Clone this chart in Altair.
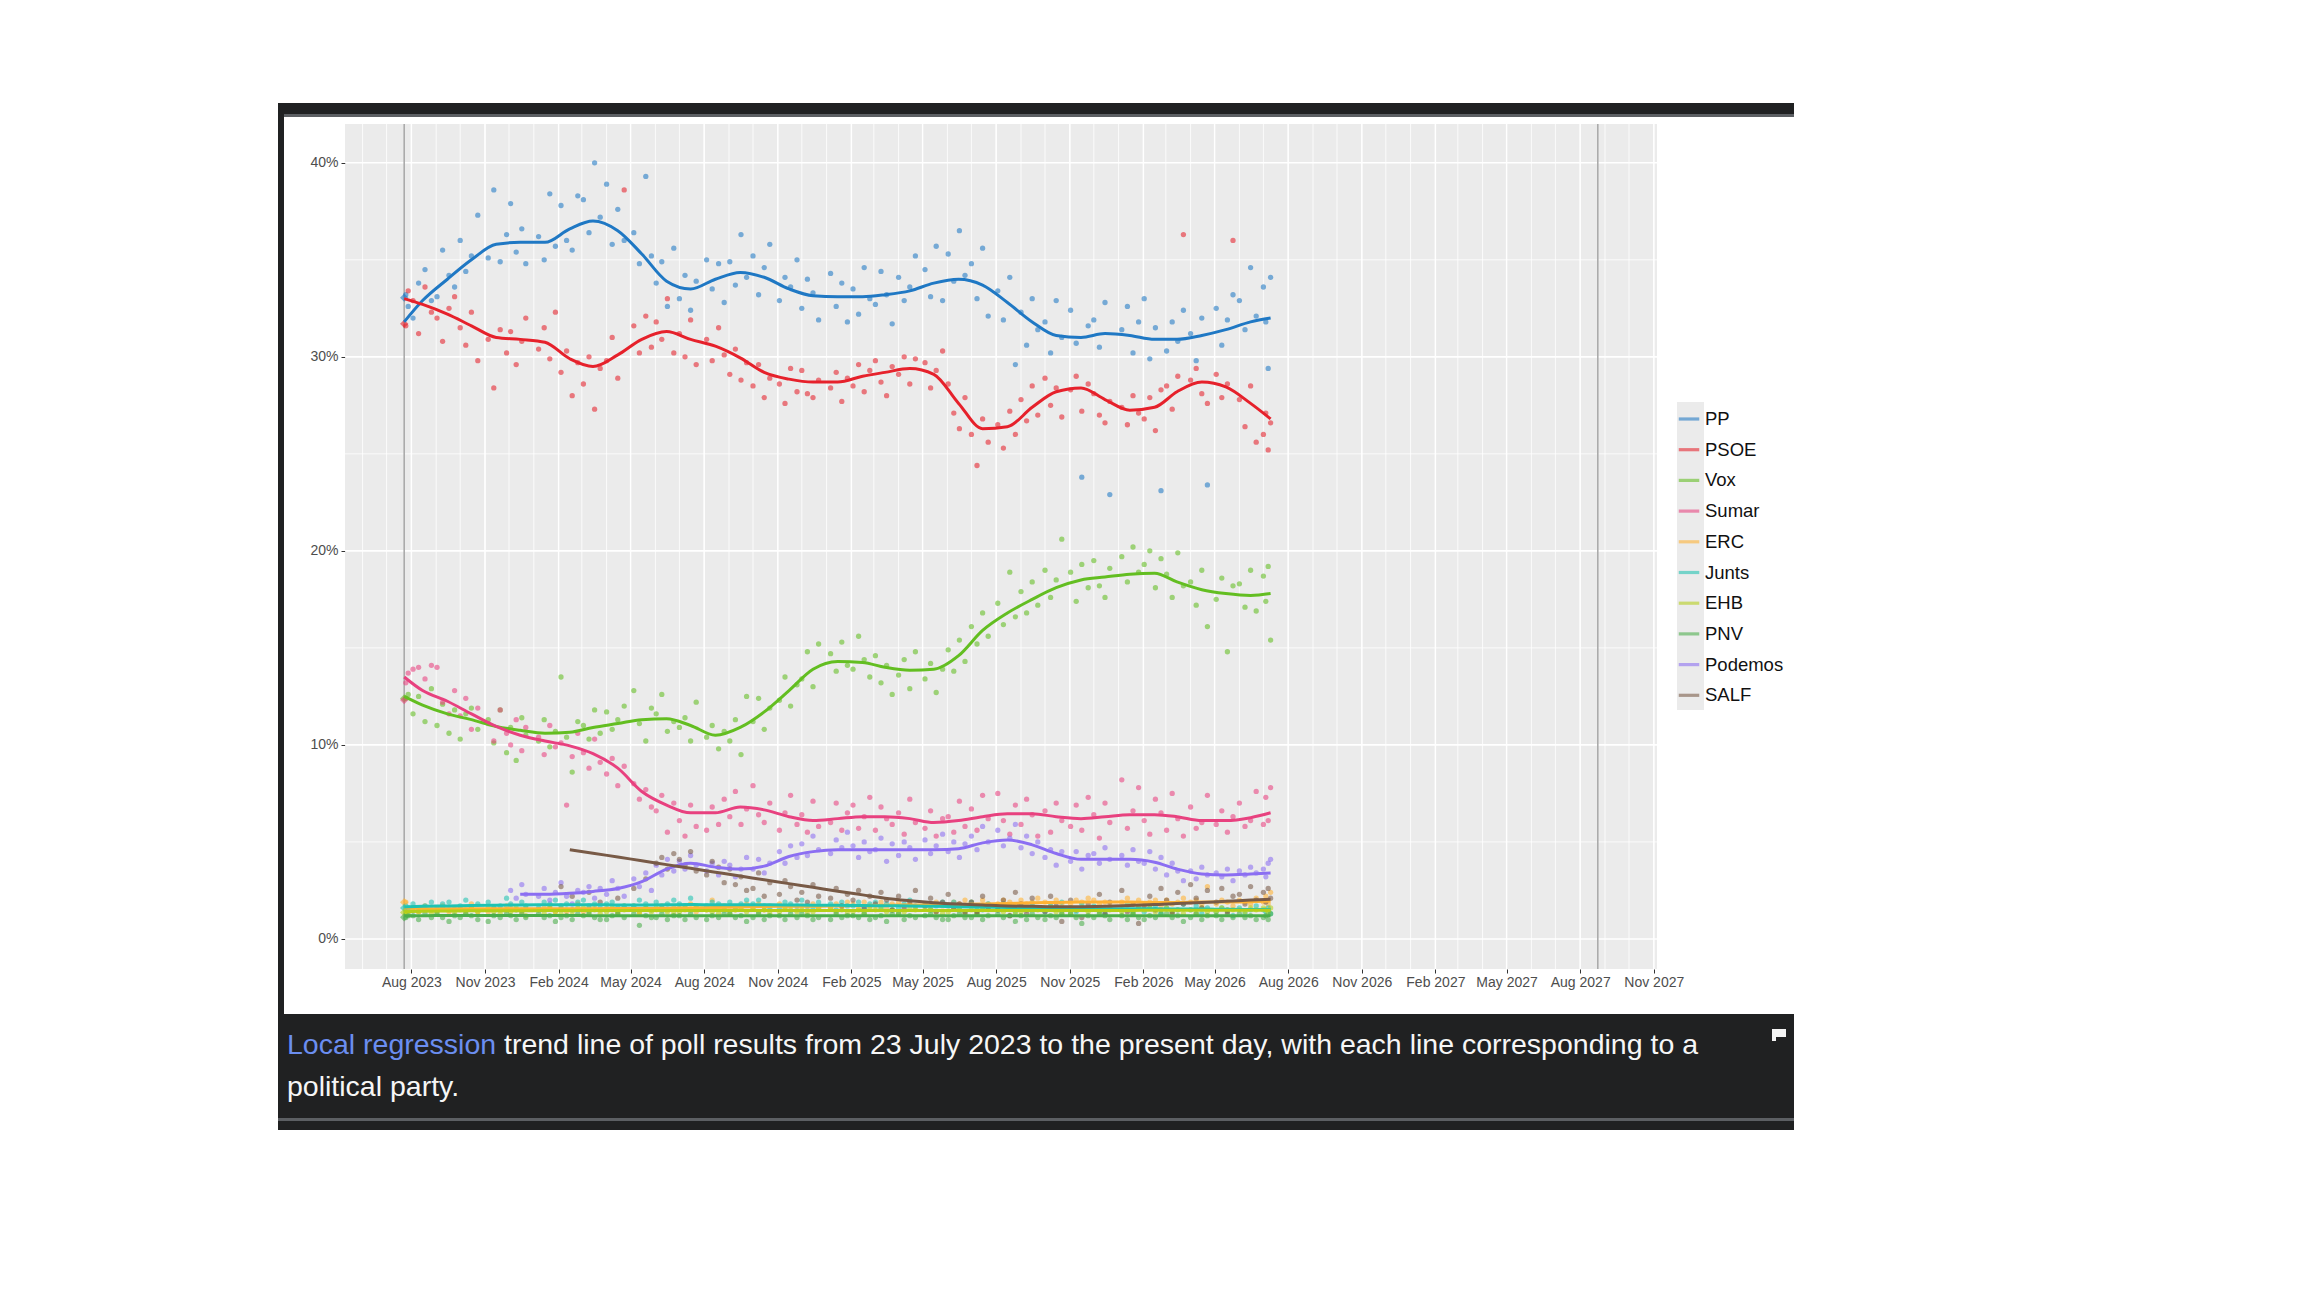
import altair as alt
import pandas as pd

FONT = "Liberation Sans"

# parties in legend order and their colours
parties = ["PP", "PSOE", "Vox", "Sumar", "ERC", "Junts", "EHB", "PNV", "Podemos", "SALF"]
colours = ["#1f78c4", "#e6212b", "#63be21", "#e8417f", "#ffb232",
           "#1fc3b2", "#b5cf18", "#4aae4a", "#8b6ef2", "#785a46"]

# 23 July 2023 general election result (diamonds) and the next election date
election_date = "2023-07-23"
election_result = [33.05, 31.70, 12.39, 12.31, 1.89, 1.60, 1.36, 1.12, None, None]
next_election = "2027-08-23"

x_ticks = ["2023-08-01", "2023-11-01", "2024-02-01", "2024-05-01", "2024-08-01",
           "2024-11-01", "2025-02-01", "2025-05-01", "2025-08-01", "2025-11-01",
           "2026-02-01", "2026-05-01", "2026-08-01", "2026-11-01", "2027-02-01",
           "2027-05-01", "2027-08-01", "2027-11-01"]
y_ticks = [0, 10, 20, 30, 40]

# poll field dates (one row of four per month)
poll_dates = [
    "2023-07-25", "2023-07-28",
    "2023-08-03", "2023-08-10", "2023-08-18", "2023-08-26",
    "2023-09-02", "2023-09-09", "2023-09-17", "2023-09-24",
    "2023-10-01", "2023-10-08", "2023-10-15", "2023-10-23",
    "2023-11-05", "2023-11-12", "2023-11-20", "2023-11-28",
    "2023-12-03", "2023-12-10", "2023-12-17", "2023-12-22",
    "2024-01-07", "2024-01-14", "2024-01-21", "2024-01-28",
    "2024-02-04", "2024-02-11", "2024-02-18", "2024-02-25",
    "2024-03-03", "2024-03-10", "2024-03-17", "2024-03-24",
    "2024-04-01", "2024-04-08", "2024-04-15", "2024-04-23",
    "2024-05-05", "2024-05-12", "2024-05-20", "2024-05-27",
    "2024-06-02", "2024-06-09", "2024-06-16", "2024-06-24",
    "2024-07-01", "2024-07-08", "2024-07-15", "2024-07-22",
    "2024-08-04", "2024-08-11", "2024-08-19", "2024-08-26",
    "2024-09-02", "2024-09-09", "2024-09-16", "2024-09-23",
    "2024-10-01", "2024-10-08", "2024-10-15", "2024-10-22",
    "2024-11-03", "2024-11-10", "2024-11-17", "2024-11-25",
    "2024-12-01", "2024-12-08", "2024-12-15", "2024-12-22",
    "2025-01-06", "2025-01-13", "2025-01-20", "2025-01-27",
    "2025-02-03", "2025-02-10", "2025-02-17", "2025-02-24",
    "2025-03-03", "2025-03-10", "2025-03-17", "2025-03-24",
    "2025-04-01", "2025-04-08", "2025-04-15", "2025-04-22",
    "2025-05-04", "2025-05-11", "2025-05-18", "2025-05-26",
    "2025-06-02", "2025-06-09", "2025-06-16", "2025-06-23",
    "2025-07-01", "2025-07-08", "2025-07-15", "2025-07-22",
    "2025-08-03", "2025-08-10", "2025-08-18", "2025-08-25",
    "2025-09-01", "2025-09-08", "2025-09-15", "2025-09-22",
    "2025-10-01", "2025-10-08", "2025-10-15", "2025-10-22",
    "2025-11-02", "2025-11-09", "2025-11-16", "2025-11-24",
    "2025-12-01", "2025-12-08", "2025-12-15", "2025-12-21",
    "2026-01-05", "2026-01-12", "2026-01-19", "2026-01-26",
    "2026-02-02", "2026-02-09", "2026-02-16", "2026-02-23",
    "2026-03-02", "2026-03-09", "2026-03-16", "2026-03-23",
    "2026-04-01", "2026-04-08", "2026-04-15", "2026-04-22",
    "2026-05-03", "2026-05-10", "2026-05-17", "2026-05-24",
    "2026-06-01", "2026-06-08", "2026-06-15", "2026-06-22",
    "2026-07-01", "2026-07-04", "2026-07-07", "2026-07-10",
]

pp = [
    33.2, 32.6,
    32.0, 33.8, 34.5, 32.9,  33.1, 35.5, 34.2, 33.6,  36.0, 34.4, 35.2, 37.3,
    35.1, 38.6, 34.9, 36.3,  37.9, 35.4, 36.6, 34.8,
    36.2, 35.0, 38.4, 35.7,  37.8, 36.0, 35.5, 38.3,  38.1, 36.4, 40.0, 37.2,
    38.9, 35.8, 37.6, 36.0,  36.4, 34.8, 39.3, 35.2,  33.8, 34.9, 32.6, 35.6,
    33.0, 34.2, 32.4, 33.9,  35.0, 33.5, 34.8, 32.8,  34.9, 33.7, 36.3, 34.1,
    35.2, 33.2, 34.6, 35.8,  32.9, 34.1, 33.6, 35.0,  32.5, 34.0, 33.3, 31.9,
    34.3, 32.6, 33.8, 31.8,  33.5, 32.2, 34.6, 33.0,  32.7, 34.4, 33.2, 31.7,
    34.1, 32.9, 33.6, 35.2,  34.5, 33.1, 35.7, 32.9,  35.3, 33.9, 36.5, 34.2,
    34.8, 33.0, 35.6, 32.1,  33.4, 31.9, 34.1, 29.6,  32.3, 30.6, 33.0, 31.4,
    31.8, 30.2, 32.9, 31.0,  32.4, 30.7, 23.8, 31.6,  31.9, 30.5, 32.8, 22.9,
    31.4, 32.6, 30.2, 31.8,  33.0, 29.9, 31.5, 23.1,  30.3, 31.8, 30.8, 32.4,
    31.2, 29.8, 32.0, 23.4,  32.5, 30.6, 31.9, 33.2,  32.9, 31.4, 34.6, 32.1,
    33.6, 31.8, 29.4, 34.1,
]
psoe = [
    31.6, 33.4,
    32.9, 31.2, 33.6, 32.3,  32.0, 30.8, 32.5, 33.1,  31.5, 30.6, 32.3, 29.8,
    30.9, 28.4, 31.4, 30.2,  31.3, 29.6, 30.8, 32.0,
    30.4, 31.5, 29.9, 32.3,  29.2, 30.3, 28.0, 29.7,  28.6, 30.0, 27.3, 29.4,
    29.8, 31.0, 28.9, 38.6,  31.6, 30.2, 32.1, 30.5,  31.8, 30.9, 33.0, 30.2,
    31.2, 30.0, 31.9, 29.6,  30.9, 29.8, 31.5, 30.1,  29.1, 30.4, 28.8, 29.7,
    28.5, 29.6, 27.9, 28.9,  28.6, 27.6, 29.4, 28.2,  29.3, 28.1, 27.9, 28.8,
    28.4, 29.2, 27.7, 28.9,  28.5, 29.6, 28.2, 29.3,  29.8, 28.7, 28.0, 29.5,
    29.1, 30.0, 28.6, 29.9,  29.7, 28.4, 29.3, 30.3,  28.6, 27.1, 26.3, 27.9,
    26.0, 24.4, 26.8, 25.6,  26.5, 25.3, 27.2, 26.0,  27.8, 26.7, 28.5, 27.0,
    28.9, 27.5, 28.4, 26.9,  28.3, 29.0, 27.2, 28.6,  28.1, 27.0, 26.6, 27.7,
    27.4, 26.5, 28.0, 27.1,  26.8, 27.9, 26.2, 28.3,  28.5, 27.3, 29.0, 36.3,
    28.8, 29.4, 28.1, 27.6,  29.1, 27.9, 28.6, 36.0,  27.8, 26.4, 28.5, 25.6,
    26.0, 27.1, 25.2, 26.6,
]
vox = [
    12.4, 12.6,
    11.6, 12.5, 11.2, 12.9,  11.0, 12.1, 10.6, 11.8,  10.3, 11.6, 11.9, 10.8,
    11.3, 10.1, 11.8, 9.6,   10.9, 9.2, 11.4, 10.5,
    10.2, 11.3, 9.9, 10.7,   13.5, 10.4, 8.6, 11.2,   11.0, 10.3, 11.8, 10.6,
    11.7, 10.8, 11.3, 12.0,  12.8, 11.1, 10.2, 11.9,  11.6, 12.6, 10.7, 11.2,
    10.9, 11.4, 10.2, 12.2,  10.4, 11.0, 9.8, 10.7,   10.2, 11.3, 9.5, 12.5,
    11.2, 12.4, 10.8, 11.9,  12.3, 13.5, 12.0, 13.1,  13.4, 14.8, 13.0, 15.2,
    14.7, 13.8, 15.3, 14.1,  13.9, 15.6, 14.4, 13.5,  14.6, 13.2, 14.1, 12.6,
    13.6, 14.4, 12.9, 14.8,  13.4, 14.2, 12.7, 13.9,  14.9, 13.8, 15.4, 14.3,
    16.1, 15.2, 16.8, 15.6,  17.3, 16.2, 18.9, 16.6,  17.9, 16.8, 18.4, 17.2,
    19.0, 17.6, 18.5, 20.6,  18.9, 17.4, 19.3, 18.1,  19.5, 18.2, 17.6, 19.1,
    19.7, 18.4, 20.2, 18.9,  19.3, 20.0, 18.1, 19.6,  18.8, 17.6, 19.9, 18.2,
    18.4, 17.2, 19.0, 16.1,  17.5, 18.6, 14.8, 18.2,  18.3, 17.1, 19.0, 16.9,
    18.7, 17.4, 19.2, 15.4,
]
sumar = [
    13.2, 13.7,
    13.9, 14.0, 13.4, 14.1,  14.0, 12.2, 11.6, 12.8,  11.5, 12.4, 10.8, 11.9,
    11.1, 10.2, 11.8, 10.6,  10.0, 11.3, 9.7, 10.9,
    10.4, 9.5, 11.0, 9.9,    10.1, 6.9, 9.4, 10.6,    9.6, 8.8, 10.3, 9.1,
    8.5, 9.3, 7.9, 8.9,      8.0, 7.2, 7.7, 6.8,      6.6, 7.4, 5.5, 7.0,
    6.1, 5.3, 6.9, 5.8,      5.6, 6.8, 5.9, 7.2,      6.3, 7.6, 5.9, 6.7,
    7.9, 6.4, 6.0, 7.0,      5.6, 6.5, 7.4, 5.9,      6.4, 5.5, 7.1, 5.8,
    6.0, 7.0, 5.6, 6.5,      6.9, 5.7, 6.3, 7.3,      5.6, 6.8, 6.2, 5.9,
    6.5, 5.4, 7.2, 6.0,      5.7, 6.6, 5.3, 6.2,      6.3, 5.5, 7.1, 5.8,
    6.7, 5.6, 7.4, 6.2,      7.5, 6.1, 5.4, 6.9,      5.9, 7.2, 6.4, 5.3,
    6.6, 5.5, 7.0, 6.1,      5.8, 6.9, 5.6, 7.3,      6.4, 5.2, 7.0, 6.0,
    8.2, 5.7, 6.6, 7.8,      6.1, 5.4, 7.2, 6.5,      5.6, 7.5, 6.2, 5.3,
    6.8, 5.7, 6.0, 7.4,      5.9, 6.6, 5.5, 6.3,      7.0, 5.8, 6.1, 7.6,
    5.9, 7.3, 6.1, 7.8,
]
erc = [
    1.9, 1.5,
    1.6, 1.4, 1.7, 1.5,  1.5, 1.7, 1.4, 1.6,  1.6, 1.5, 1.8, 1.4,
    1.4, 1.6, 1.5, 1.7,  1.7, 1.5, 1.4, 1.6,
    1.5, 1.6, 1.7, 1.4,  1.6, 1.4, 1.5, 1.8,  1.4, 1.6, 1.7, 1.5,
    1.6, 1.5, 1.4, 1.7,  1.7, 1.4, 1.6, 1.5,  1.5, 1.7, 1.5, 1.6,
    1.6, 1.5, 1.8, 1.4,  1.5, 2.0, 1.6, 1.7,  1.7, 1.5, 1.6, 1.8,
    1.6, 1.8, 1.5, 1.7,  1.8, 1.6, 1.7, 1.5,  1.7, 1.5, 1.8, 1.6,
    1.6, 1.8, 1.7, 1.9,  1.8, 1.6, 1.9, 1.7,  1.7, 1.9, 1.6, 1.8,
    1.9, 1.7, 1.8, 1.6,  1.8, 1.6, 1.9, 1.7,  1.7, 1.9, 1.8, 2.0,
    1.9, 1.7, 2.0, 1.8,  1.8, 2.0, 1.9, 1.7,  2.0, 1.8, 1.9, 2.1,
    1.9, 1.7, 2.0, 1.8,  1.8, 2.0, 1.9, 2.1,  2.0, 1.8, 1.9, 1.7,
    1.9, 2.1, 1.8, 2.0,  1.8, 1.9, 2.0, 1.7,  2.0, 1.8, 1.9, 2.1,
    1.9, 2.0, 1.8, 2.7,  1.8, 2.0, 1.9, 1.7,  2.0, 1.9, 1.8, 2.1,
    1.9, 2.2, 1.8, 2.4,
]
junts = [
    1.7, 1.6,
    1.8, 1.5, 1.7, 1.9,  1.6, 1.8, 1.9, 1.5,  1.7, 2.0, 1.6, 1.8,
    1.9, 1.6, 1.7, 2.1,  1.8, 1.5, 1.9, 1.7,
    1.6, 1.9, 1.8, 2.0,  1.7, 1.8, 1.5, 1.9,  2.0, 1.7, 1.8, 1.6,
    1.8, 1.9, 1.6, 1.7,  1.7, 2.0, 1.8, 1.5,  1.9, 1.6, 1.8, 2.0,
    1.8, 1.7, 2.1, 1.6,  1.7, 1.9, 1.8, 1.5,  1.9, 1.6, 1.8, 2.0,
    1.8, 2.0, 1.7, 1.6,  1.6, 1.9, 1.8, 1.7,  2.0, 1.7, 1.6, 1.9,
    1.8, 1.5, 1.9, 1.7,  1.7, 1.9, 1.6, 1.8,  1.9, 1.6, 1.8, 1.5,
    1.6, 1.8, 2.0, 1.7,  1.8, 1.5, 1.7, 1.9,  1.7, 1.9, 1.6, 1.4,
    1.9, 1.6, 1.5, 1.8,  1.5, 1.8, 1.7, 1.4,  1.7, 1.5, 1.8, 1.6,
    1.4, 1.7, 1.6, 1.9,  1.6, 1.4, 1.8, 1.5,  1.7, 1.5, 1.3, 1.6,
    1.5, 1.8, 1.4, 1.6,  1.4, 1.6, 1.7, 1.3,  1.6, 1.4, 1.5, 1.8,
    1.5, 1.7, 1.3, 1.6,  1.4, 1.6, 1.5, 1.2,  1.6, 1.3, 1.5, 1.7,
    1.5, 1.4, 1.6, 1.3,
]
ehb = [
    1.4, 1.3,
    1.5, 1.4, 1.6, 1.3,  1.4, 1.6, 1.5, 1.3,  1.5, 1.3, 1.6, 1.4,
    1.6, 1.4, 1.3, 1.5,  1.4, 1.6, 1.5, 1.2,
    1.5, 1.3, 1.6, 1.4,  1.3, 1.5, 1.4, 1.6,  1.6, 1.4, 1.5, 1.3,
    1.4, 1.6, 1.3, 1.5,  1.5, 1.3, 1.6, 1.4,  1.6, 1.5, 1.4, 1.3,
    1.4, 1.6, 1.5, 1.7,  1.5, 1.4, 1.3, 1.6,  1.3, 1.5, 1.6, 1.4,
    1.6, 1.4, 1.5, 1.3,  1.4, 1.6, 1.5, 1.4,  1.5, 1.3, 1.4, 1.6,
    1.6, 1.4, 1.5, 1.3,  1.4, 1.5, 1.3, 1.6,  1.5, 1.6, 1.4, 1.5,
    1.3, 1.4, 1.6, 1.5,  1.6, 1.5, 1.4, 1.3,  1.4, 1.6, 1.5, 1.4,
    1.5, 1.3, 1.6, 1.5,  1.6, 1.4, 1.5, 1.3,  1.4, 1.5, 1.6, 1.5,
    1.5, 1.6, 1.4, 1.3,  1.3, 1.5, 1.6, 1.4,  1.6, 1.4, 1.5, 1.5,
    1.4, 1.5, 1.3, 1.6,  1.5, 1.6, 1.4, 1.5,  1.6, 1.4, 1.5, 1.3,
    1.5, 1.3, 1.6, 1.4,  1.4, 1.6, 1.5, 1.5,  1.5, 1.4, 1.6, 1.5,
    1.6, 1.5, 1.4, 1.6,
]
pnv = [
    1.1, 1.2,
    1.2, 1.0, 1.3, 1.1,  1.3, 1.1, 0.9, 1.2,  1.1, 1.3, 1.2, 1.0,
    0.9, 1.2, 1.1, 1.3,  1.2, 1.0, 1.3, 1.1,
    1.3, 1.1, 1.2, 0.9,  1.1, 1.2, 1.0, 1.3,  1.2, 1.3, 1.1, 1.0,
    1.0, 1.2, 1.3, 1.1,  1.3, 0.7, 1.2, 1.1,  1.1, 1.3, 1.0, 1.2,
    1.2, 1.0, 1.3, 1.1,  1.0, 1.2, 1.1, 1.3,  1.3, 1.1, 1.2, 0.9,
    1.1, 1.3, 1.0, 1.2,  1.2, 1.0, 1.3, 1.1,  1.3, 1.2, 1.0, 1.1,
    1.0, 1.3, 1.1, 1.2,  1.2, 1.1, 1.3, 1.0,  1.1, 1.2, 0.9, 1.3,
    1.3, 1.0, 1.2, 1.1,  1.2, 1.3, 1.1, 1.0,  1.0, 1.2, 1.3, 1.1,
    1.1, 1.3, 1.0, 1.2,  1.3, 1.1, 1.2, 0.9,  1.2, 1.0, 1.3, 1.1,
    1.0, 1.2, 1.1, 1.3,  1.3, 1.1, 0.8, 1.2,  1.1, 1.3, 1.2, 1.0,
    1.2, 1.0, 1.3, 1.1,  1.0, 1.2, 1.1, 1.3,  1.3, 1.1, 1.2, 0.9,
    1.1, 1.3, 1.0, 1.2,  1.2, 1.0, 1.3, 1.1,  1.3, 1.1, 1.2, 1.0,
    1.1, 1.2, 1.0, 1.3,
]
podemos = [
    None, None,
    None, None, None, None,  None, None, None, None,  None, None, None, None,
    None, None, None, None,  2.5, 2.1, 2.8, 2.3,
    2.2, 2.6, 2.0, 2.4,  2.9, 2.2, 1.8, 2.5,  2.4, 2.7, 2.1, 2.6,
    2.3, 3.0, 2.6, 2.2,  3.1, 2.7, 3.4, 2.5,  3.8, 3.3, 4.1, 3.5,
    4.0, 3.6, 4.3, 3.8,  3.5, 3.9, 3.3, 4.0,  3.8, 3.2, 3.6, 4.2,
    3.6, 4.1, 3.4, 3.9,  4.5, 3.9, 4.8, 4.2,  4.9, 4.3, 5.3, 4.6,
    4.4, 5.1, 4.7, 5.5,  4.8, 4.2, 5.0, 4.5,  4.6, 5.2, 4.0, 4.9,
    4.3, 5.0, 4.7, 4.1,  5.1, 4.4, 4.8, 5.4,  4.5, 5.0, 4.2, 4.9,
    5.3, 4.6, 5.8, 5.0,  5.6, 4.8, 5.2, 5.9,  4.7, 5.3, 4.4, 5.0,
    4.2, 4.6, 3.8, 4.5,  4.0, 4.5, 3.6, 4.3,  4.4, 3.9, 4.7, 4.1,
    4.3, 3.8, 4.6, 4.0,  3.9, 4.5, 3.6, 4.2,  3.3, 3.9, 3.5, 3.0,
    3.5, 3.1, 3.7, 3.3,  3.4, 3.2, 3.6, 3.0,  3.5, 3.3, 3.7, 3.4,
    3.6, 3.2, 3.9, 4.1,
]
salf = [
    None, None,
    None, None, None, None,  None, None, None, None,  None, None, None, None,
    None, None, None, None,  None, None, None, None,
    None, None, None, None,  2.7, None, 2.2, None,  None, 2.4, None, 1.9,
    None, None, 2.1, None,  2.6, None, 3.1, None,  3.9, 4.2, 3.6, 4.4,
    4.1, 3.8, 4.5, 3.5,  3.3, 4.0, 3.7, 2.9,  3.6, 2.8, 3.2, 2.5,
    2.6, 3.4, 2.2, 2.9,  2.3, 3.0, 2.7, 2.0,  2.4, 1.9, 2.8, 2.2,
    2.1, 2.6, 1.7, 2.3,  2.0, 2.5, 1.6, 2.2,  1.8, 2.4, 2.0, 1.5,
    2.2, 1.6, 1.9, 2.5,  1.7, 2.1, 1.4, 1.9,  2.3, 1.6, 1.8, 1.3,
    1.9, 1.4, 2.2, 1.6,  1.5, 2.0, 1.2, 2.4,  1.8, 1.3, 2.1, 1.6,
    1.4, 2.2, 1.7, 0.9,  2.0, 1.5, 1.1, 1.8,  1.6, 2.3, 1.3, 1.9,
    2.5, 1.4, 1.8, 0.8,  1.7, 2.2, 1.5, 2.6,  2.0, 1.3, 2.4, 1.8,
    2.8, 2.1, 1.6, 2.5,  1.9, 2.6, 1.4, 2.2,  2.3, 1.8, 2.7, 2.0,
    2.4, 1.9, 2.6, 2.1,
]

# local regression trend
trend_dates = [
    "2023-07-23", "2023-08-15", "2023-09-15", "2023-10-15", "2023-11-15", "2023-12-15",
    "2024-01-15", "2024-02-15", "2024-03-15", "2024-04-15", "2024-05-15", "2024-06-15",
    "2024-07-15", "2024-08-15", "2024-09-15", "2024-10-15", "2024-11-15", "2024-12-15",
    "2025-01-15", "2025-02-15", "2025-03-15", "2025-04-15", "2025-05-15", "2025-06-15",
    "2025-07-15", "2025-08-15", "2025-09-15", "2025-10-15", "2025-11-15", "2025-12-15",
    "2026-01-15", "2026-02-15", "2026-03-15", "2026-04-15", "2026-05-15", "2026-06-15",
    "2026-07-10",
]
pp_trend = [31.8, 32.9, 34.0, 35.0, 35.8, 35.9,
            35.9, 36.6, 37.0, 36.5, 35.3, 33.9, 33.5, 34.0, 34.35, 34.1, 33.5, 33.15,
            33.1, 33.1, 33.2, 33.4, 33.8, 34.0, 33.7, 32.8, 31.8, 31.1, 31.0, 31.2,
            31.1, 30.9, 30.9, 31.1, 31.4, 31.8, 32.0]
psoe_trend = [33.0, 32.7, 32.2, 31.6, 31.0, 30.9,
              30.75, 29.9, 29.5, 30.1, 30.9, 31.3, 30.9, 30.55, 29.95, 29.2, 28.85, 28.7,
              28.7, 29.0, 29.2, 29.4, 29.1, 27.6, 26.3, 26.4, 27.4, 28.2, 28.4, 27.8,
              27.25, 27.4, 28.2, 28.7, 28.45, 27.6, 26.8]
vox_trend = [12.5, 12.05, 11.6, 11.3, 10.95, 10.75,
             10.6, 10.65, 10.9, 11.1, 11.3, 11.35, 11.0, 10.5, 10.9, 11.7, 12.8, 13.9,
             14.3, 14.25, 14.0, 13.85, 13.9, 14.6, 15.9, 16.8, 17.5, 18.1, 18.5, 18.65,
             18.8, 18.85, 18.4, 18.0, 17.8, 17.7, 17.8]
sumar_trend = [13.5, 12.8, 12.25, 11.6, 10.95, 10.5,
               10.2, 9.95, 9.55, 8.8, 7.6, 6.9, 6.5, 6.5, 6.8, 6.65, 6.3, 6.1,
               6.2, 6.3, 6.3, 6.2, 6.0, 6.1, 6.3, 6.45, 6.45, 6.3, 6.2, 6.3,
               6.4, 6.4, 6.3, 6.1, 6.1, 6.25, 6.5]
erc_trend = [1.6, 1.57, 1.55, 1.55, 1.55, 1.55,
             1.55, 1.55, 1.56, 1.57, 1.57, 1.58, 1.6, 1.62, 1.65, 1.67, 1.68, 1.68,
             1.7, 1.72, 1.74, 1.75, 1.76, 1.78, 1.8, 1.83, 1.86, 1.88, 1.9, 1.9,
             1.9, 1.88, 1.88, 1.9, 1.9, 1.92, 1.95]
junts_trend = [1.65, 1.68, 1.7, 1.72, 1.74, 1.75,
               1.76, 1.76, 1.76, 1.75, 1.75, 1.76, 1.77, 1.76, 1.76, 1.76, 1.75, 1.74,
               1.73, 1.72, 1.71, 1.7, 1.68, 1.66, 1.64, 1.62, 1.6, 1.58, 1.57, 1.56,
               1.55, 1.55, 1.54, 1.54, 1.53, 1.52, 1.52]
ehb_trend = [1.40, 1.42, 1.44, 1.45, 1.45, 1.45,
             1.46, 1.46, 1.46, 1.46, 1.46, 1.47, 1.47, 1.47, 1.47, 1.47, 1.46, 1.46,
             1.46, 1.46, 1.46, 1.46, 1.46, 1.46, 1.46, 1.46, 1.47, 1.47, 1.47, 1.47,
             1.47, 1.48, 1.48, 1.48, 1.48, 1.48, 1.48]
pnv_trend = [1.2, 1.2, 1.21, 1.21, 1.21, 1.21,
             1.21, 1.21, 1.2, 1.2, 1.2, 1.2, 1.2, 1.2, 1.2, 1.2, 1.2, 1.2,
             1.2, 1.2, 1.2, 1.2, 1.2, 1.2, 1.2, 1.2, 1.2, 1.2, 1.19, 1.19,
             1.19, 1.19, 1.19, 1.19, 1.19, 1.19, 1.19]
podemos_trend = [None, None, None, None, None, 2.3,
                 2.3, 2.35, 2.45, 2.6, 2.95, 3.6, 3.9, 3.7, 3.6, 3.75, 4.25, 4.5,
                 4.6, 4.6, 4.6, 4.6, 4.6, 4.65, 4.95, 5.1, 4.85, 4.4, 4.1, 4.1,
                 4.1, 3.95, 3.6, 3.35, 3.3, 3.35, 3.4]
salf_trend = [None, None, None, None, None, None,
              None, 4.6, 4.42, 4.22, 4.03, 3.83, 3.64, 3.44, 3.24, 3.05, 2.85, 2.66,
              2.46, 2.27, 2.1, 1.97, 1.87, 1.8, 1.75, 1.7, 1.68, 1.66, 1.66, 1.68,
              1.72, 1.77, 1.82, 1.88, 1.94, 2.0, 2.05]

caption_link = "Local regression"
caption_rest = "trend line of poll results from 23 July 2023 to the present day, with each line corresponding to a"
caption_line2 = "political party."

# ---- build tables ----
party_colour = dict(zip(parties, colours))
poll_lists = dict(zip(parties, [pp, psoe, vox, sumar, erc, junts, ehb, pnv, podemos, salf]))
trend_lists = dict(zip(parties, [pp_trend, psoe_trend, vox_trend, sumar_trend, erc_trend,
                                 junts_trend, ehb_trend, pnv_trend, podemos_trend, salf_trend]))

poll_rows, trend_rows = [], []
for p in parties:
    assert len(poll_lists[p]) == len(poll_dates), p
    assert len(trend_lists[p]) == len(trend_dates), p
    for d, v in zip(poll_dates, poll_lists[p]):
        if v is not None:
            poll_rows.append({"date": d, "party": p, "pct": v, "colour": party_colour[p]})
    for d, v in zip(trend_dates, trend_lists[p]):
        if v is not None:
            trend_rows.append({"date": d, "party": p, "pct": v})
polls = pd.DataFrame(poll_rows)
trends = pd.DataFrame(trend_rows)
result = pd.DataFrame({"date": election_date, "party": parties, "pct": election_result,
                       "colour": colours}).dropna()


def ms(d):
    return int(pd.Timestamp(d).value // 10**6)


month_lines = pd.DataFrame({"date": [d.strftime("%Y-%m-%d") for d in
                                     pd.date_range("2023-06-01", "2027-11-01", freq="MS")]})
quarter_lines = pd.DataFrame({"date": x_ticks})
election_lines = pd.DataFrame({"date": [election_date, next_election]})
major_y = pd.DataFrame({"pct": y_ticks})
minor_y = pd.DataFrame({"pct": [5, 15, 25, 35]})
one = pd.DataFrame({"k": [0]})

# ---- scales / encodings shared by all layers ----
W, H = 1312, 845
X = alt.X("date:T", title=None,
          scale=alt.Scale(type="utc", domain=[ms("2023-05-10"), ms("2027-11-05")]),
          axis=alt.Axis(values=[ms(d) for d in x_ticks], format="%b %Y", labelPadding=2))
Y = alt.Y("pct:Q", title=None,
          scale=alt.Scale(domain=[-1.55, 42.0], nice=False, zero=False),
          axis=alt.Axis(values=y_ticks, labelExpr="datum.value + '%'", labelPadding=3))
key = alt.Legend(
    title=None, orient="none", legendX=1332, legendY=283,
    symbolType="stroke", symbolSize=420, symbolStrokeWidth=3.2, symbolOpacity=1,
    labelFont=FONT, labelFontSize=18.5, labelColor="#111111", labelOffset=4,
    rowPadding=8.7, padding=0,
)

minor_x = alt.Chart(month_lines).mark_rule(color="white", strokeWidth=0.8).encode(x=X)
major_x = alt.Chart(quarter_lines).mark_rule(color="white", strokeWidth=1.4).encode(x=X)
minor_h = alt.Chart(minor_y).mark_rule(color="white", strokeWidth=0.8).encode(y=Y)
major_h = alt.Chart(major_y).mark_rule(color="white", strokeWidth=1.6).encode(y=Y)
elections = alt.Chart(election_lines).mark_rule(color="#ababab", strokeWidth=1.6).encode(x=X)

points = alt.Chart(polls).mark_circle(size=28, opacity=0.58).encode(
    x=X, y=Y, color=alt.Color("colour:N", scale=None))
diamonds = alt.Chart(result).mark_point(shape="diamond", filled=True, size=70, opacity=0.6).encode(
    x=X, y=Y, color=alt.Color("colour:N", scale=None))
lines = alt.Chart(trends).mark_line(strokeWidth=3, interpolate="monotone").encode(
    x=X, y=Y,
    color=alt.Color("party:N", scale=alt.Scale(domain=parties, range=colours),
                    sort=parties, legend=key))


# ---- page furniture (frame, caption bar, legend key background) ----
def box(x, x2, y, y2, colour):
    return alt.Chart(one).mark_rect(color=colour).encode(
        x=alt.value(x), x2=alt.value(x2), y=alt.value(y), y2=alt.value(y2))


def words(x, y, s, colour):
    return alt.Chart(one).mark_text(align="left", baseline="alphabetic", font=FONT,
                                    fontSize=28.5, color=colour).encode(
        x=alt.value(x), y=alt.value(y), text=alt.value(s))


furniture = [
    box(-67, 1449, -21, -7, "#202122"),
    box(-67, 1449, -10, -7, "#5c5f63"),
    box(-67, -61, -21, 890, "#202122"),
    box(-67, 1449, 890, 1006, "#202122"),
    box(-67, 1449, 994, 997, "#5c5f63"),
    box(1427, 1441, 905, 913, "#f4f4f4"),
    box(1427, 1431, 913, 917, "#f4f4f4"),
    box(1332, 1359, 278, 586, "#ebebeb"),
    words(-58, 930, caption_link, "#6b8ef0"),
    words(159, 930, caption_rest, "#f6f6f6"),
    words(-58, 972, caption_line2, "#f6f6f6"),
]

chart = alt.layer(
    minor_x, major_x, minor_h, major_h, elections, points, diamonds, lines, *furniture
).properties(
    width=W, height=H, background="white",
    padding={"left": 337, "top": 116, "right": 620, "bottom": 300},
    autosize=alt.AutoSizeParams(type="none"),
).configure_view(
    fill="#ebebeb", strokeWidth=0
).configure_axis(
    grid=False, domain=False, labelFont=FONT, labelFontSize=14, labelColor="#4d4d4d",
    tickColor="#333333", tickSize=4, tickWidth=1
)

chart.save("out.html", embed_options={"renderer": "svg", "actions": False})
